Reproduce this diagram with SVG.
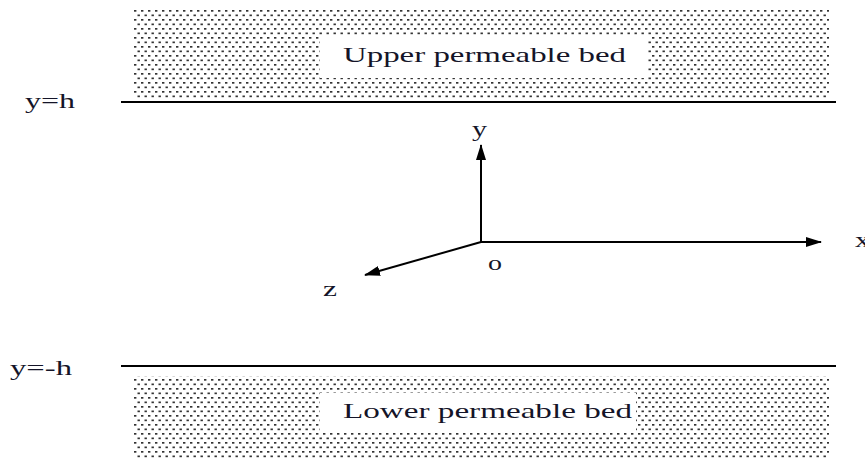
<svg xmlns="http://www.w3.org/2000/svg" width="865" height="459" viewBox="0 0 865 459">
<style>
.t{font-family:"Liberation Serif","Times New Roman",serif;font-size:21px;fill:#141428}
.ln{stroke:#000;stroke-width:2;fill:none}
.ax{stroke:#000;stroke-width:2;fill:none}
</style>
<defs>
<pattern id="dots" width="7" height="9" patternUnits="userSpaceOnUse">
<rect x="1" y="1" width="2.4" height="1.7" fill="#333"/>
<rect x="4.5" y="5.5" width="2.4" height="1.7" fill="#333"/>
</pattern>
<marker id="ah" markerWidth="16" markerHeight="10" refX="15" refY="5" orient="auto" markerUnits="userSpaceOnUse">
<path d="M0,0 L16,5 L0,10 Z" fill="#000"/>
</marker>
</defs>
<rect width="865" height="459" fill="#fff"/>
<g id="upper-bed">
<rect x="133" y="9" width="696" height="90" fill="url(#dots)"/>
<rect x="320" y="36" width="328" height="42" fill="#fff"/>
<text class="t" x="343" y="62" textLength="283" lengthAdjust="spacingAndGlyphs">Upper permeable bed</text>
</g>
<g id="lower-bed">
<rect x="133" y="376" width="696" height="83" fill="url(#dots)"/>
<rect x="320" y="393" width="316" height="38" fill="#fff"/>
<text class="t" x="343" y="418" textLength="289" lengthAdjust="spacingAndGlyphs">Lower permeable bed</text>
</g>
<g id="boundaries">
<line class="ln" x1="121" y1="102" x2="836" y2="102"/>
<line class="ln" x1="121" y1="366" x2="836" y2="366"/>
<text class="t" x="25" y="108" textLength="50" lengthAdjust="spacingAndGlyphs">y=h</text>
<text class="t" x="10" y="375" textLength="62" lengthAdjust="spacingAndGlyphs">y=-h</text>
</g>
<g id="connectors">
<line class="ax" x1="481" y1="242" x2="481" y2="145" marker-end="url(#ah)"/>
<line class="ax" x1="480" y1="242" x2="821" y2="242" marker-end="url(#ah)"/>
<line class="ax" x1="481" y1="242" x2="365" y2="275" marker-end="url(#ah)"/>
</g>
<g id="axis-labels">
<text class="t" x="472" y="136" textLength="15" lengthAdjust="spacingAndGlyphs">y</text>
<text class="t" x="855" y="247" textLength="15" lengthAdjust="spacingAndGlyphs">x</text>
<text class="t" x="323" y="296" textLength="14" lengthAdjust="spacingAndGlyphs">z</text>
<text class="t" x="488" y="270" textLength="14" lengthAdjust="spacingAndGlyphs">o</text>
</g>
</svg>
